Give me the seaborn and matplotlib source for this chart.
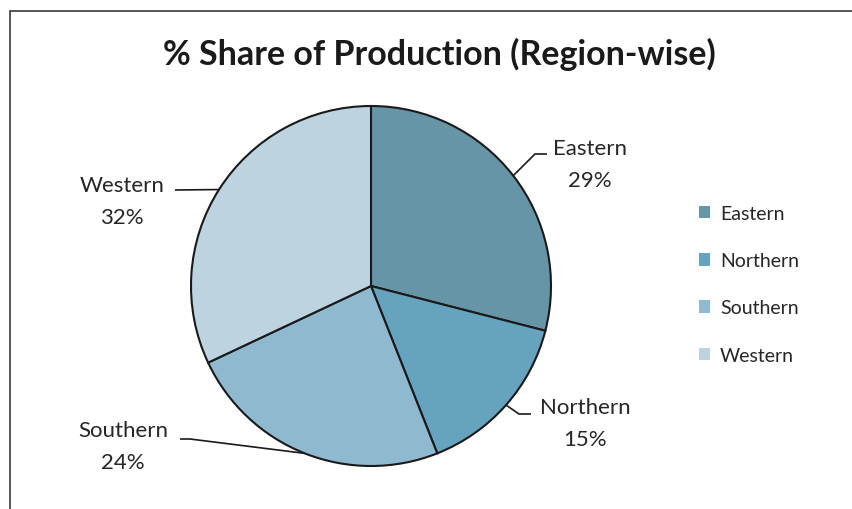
import numpy as np
import matplotlib
matplotlib.use("Agg")
from matplotlib import pyplot as plt
from matplotlib.patches import Patch, Rectangle
import seaborn as sns

regions = ["Eastern", "Northern", "Southern", "Western"]
shares = [29, 15, 24, 32]
colors = ["#6795a8", "#66a3bf", "#8fb9cf", "#bdd3e0"]
title = "% Share of Production (Region-wise)"

sns.set_style("white")
plt.rcParams['font.family'] = ['Lato', 'DejaVu Sans']

fig = plt.figure(figsize=(8.52, 5.10), dpi=100)
ax = fig.add_axes([0, 0, 1, 1])

# frame of the chart area
ax.add_patch(Rectangle((10, -20), 900, 518, fill=False, edgecolor="#3a3a3a", lw=1.2))

cx, cy, r = 371, 223, 180
wedges, _ = ax.pie(shares, colors=colors, startangle=90, counterclock=False,
                   center=(cx, cy), radius=r, frame=True,
                   wedgeprops=dict(edgecolor="#1a1a1a", linewidth=1.5))
ax.set_xlim(0, 852)
ax.set_ylim(0, 510)
ax.set_aspect("equal")
ax.axis("off")

ax.text(439, 456, title, ha="center", va="center", fontsize=24.5, fontweight="bold", color="#1a1a1a")

# label text positions (centre of the two-line label) and leader-line elbows
label_pos = {"Eastern": (590, 345), "Northern": (585, 86), "Southern": (123, 63), "Western": (122, 308)}
elbows = {"Eastern": [(535, 355), (547, 355)],
          "Northern": [(519, 95), (531, 95)],
          "Southern": [(190, 70), (180, 70)],
          "Western": [(175, 319)]}

for w, name, val in zip(wedges, regions, shares):
    mid = np.deg2rad((w.theta1 + w.theta2) / 2)
    ex, ey = cx + r * np.cos(mid), cy + r * np.sin(mid)
    pts = [(ex, ey)] + elbows[name]
    xs, ys = zip(*pts)
    ax.plot(xs, ys, color="#1a1a1a", lw=1.2, solid_capstyle="butt")
    tx, ty = label_pos[name]
    ax.text(tx, ty, f"{name}\n{val}%", ha="center", va="center", fontsize=16,
            color="#262626", linespacing=1.75)

handles = [Patch(facecolor=c, edgecolor="none") for c in colors]
ax.legend(handles, regions, loc="upper left", bbox_to_anchor=(0.811, 0.611),
          frameon=False, fontsize=14, handlelength=0.6, handleheight=0.6,
          labelspacing=1.55, handletextpad=0.5, borderaxespad=0)

fig.savefig("out.png", dpi=100)
